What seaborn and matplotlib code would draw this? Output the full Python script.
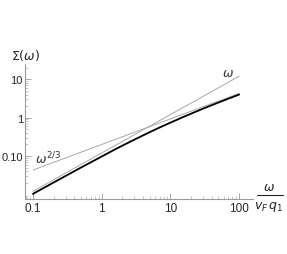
import numpy as np
import pandas as pd
import matplotlib
matplotlib.use("Agg")
import matplotlib.pyplot as plt
import matplotlib.ticker as mticker
import seaborn as sns

# values
omega = [0.1, 0.2, 0.5, 1, 1.5, 2, 3, 5, 7, 10, 15, 20, 30, 50, 70, 100]
sigma = [0.0103, 0.0204, 0.050, 0.097, 0.143, 0.186, 0.268, 0.418, 0.555,
         0.74, 1.02, 1.27, 1.72, 2.48, 3.13, 4.0]
asym_omega = [0.1, 100]
asym_linear = [0.012, 12.0]      # ~ omega
asym_twothirds = [0.043, 4.3]    # ~ omega^(2/3)

x_ticks = [0.1, 1, 10, 100]
x_ticklabels = ["0.1", "1", "10", "100"]
y_ticks = [0.1, 1, 10]
y_ticklabels = ["0.10", "1", "10"]

sns.set_style("white")
plt.rcParams['font.family'] = ['Liberation Sans', 'DejaVu Sans']
plt.rcParams['mathtext.fontset'] = 'dejavusans'

fig = plt.figure(figsize=(2.87, 2.55), dpi=100)
ax = fig.add_axes([0.087, 0.216, 0.795, 0.529])

df = pd.DataFrame({"omega": omega, "sigma": sigma})
asym = pd.DataFrame({"omega": asym_omega, "lin": asym_linear, "tt": asym_twothirds})

sns.lineplot(data=asym, x="omega", y="lin", ax=ax, color="#a8a8a8", lw=0.7)
sns.lineplot(data=asym, x="omega", y="tt", ax=ax, color="#a8a8a8", lw=0.7)
sns.lineplot(data=df, x="omega", y="sigma", ax=ax, color="black", lw=1.3)

ax.set_xscale("log")
ax.set_yscale("log")
ax.set_xlim(0.0765, 160)
ax.set_ylim(0.0076, 25)

ax.xaxis.set_major_locator(mticker.FixedLocator(x_ticks))
ax.xaxis.set_major_formatter(mticker.FixedFormatter(x_ticklabels))
ax.yaxis.set_major_locator(mticker.FixedLocator(y_ticks))
ax.yaxis.set_major_formatter(mticker.FixedFormatter(y_ticklabels))
ax.xaxis.set_minor_locator(mticker.LogLocator(base=10, subs=np.arange(2, 10)))
ax.yaxis.set_minor_locator(mticker.LogLocator(base=10, subs=np.arange(2, 10)))
ax.xaxis.set_minor_formatter(mticker.NullFormatter())
ax.yaxis.set_minor_formatter(mticker.NullFormatter())

for s in ["top", "right"]:
    ax.spines[s].set_visible(False)
for s in ["left", "bottom"]:
    ax.spines[s].set_color("#9a9a9a")
    ax.spines[s].set_linewidth(0.8)

ax.tick_params(which="both", bottom=True, left=True, top=False, right=False)
ax.tick_params(which="major", direction="in", length=4, width=0.6, color="#9a9a9a",
               labelsize=8.5, pad=2.5)
ax.tick_params(axis="y", which="major", labelsize=8, pad=1.5)
ax.tick_params(which="minor", direction="in", length=2, width=0.5, color="#b0b0b0")
ax.set_xlabel("")
ax.set_ylabel("")

fig.text(35 / 287, 1 - 164 / 255, r"$\omega^{2/3}$", fontsize=9, color="#333333")
fig.text(222 / 287, 1 - 77 / 255, r"$\omega$", fontsize=9, color="#333333")
fig.text(11 / 287, 1 - 60 / 255, r"$\Sigma(\omega)$", fontsize=9, color="#222222")

# x-axis label as a fraction
fig.text(269 / 287, 1 - 188 / 255, r"$\omega$", fontsize=9, ha="center", va="center", color="#222222")
fig.add_artist(plt.Line2D([257 / 287, 283 / 287], [1 - 196 / 255, 1 - 196 / 255],
                          color="#222222", lw=0.8))
fig.text(269 / 287, 1 - 207 / 255, r"$v_F\,q_1$", fontsize=9, ha="center", va="center", color="#222222")

fig.savefig("out.png", dpi=100)
